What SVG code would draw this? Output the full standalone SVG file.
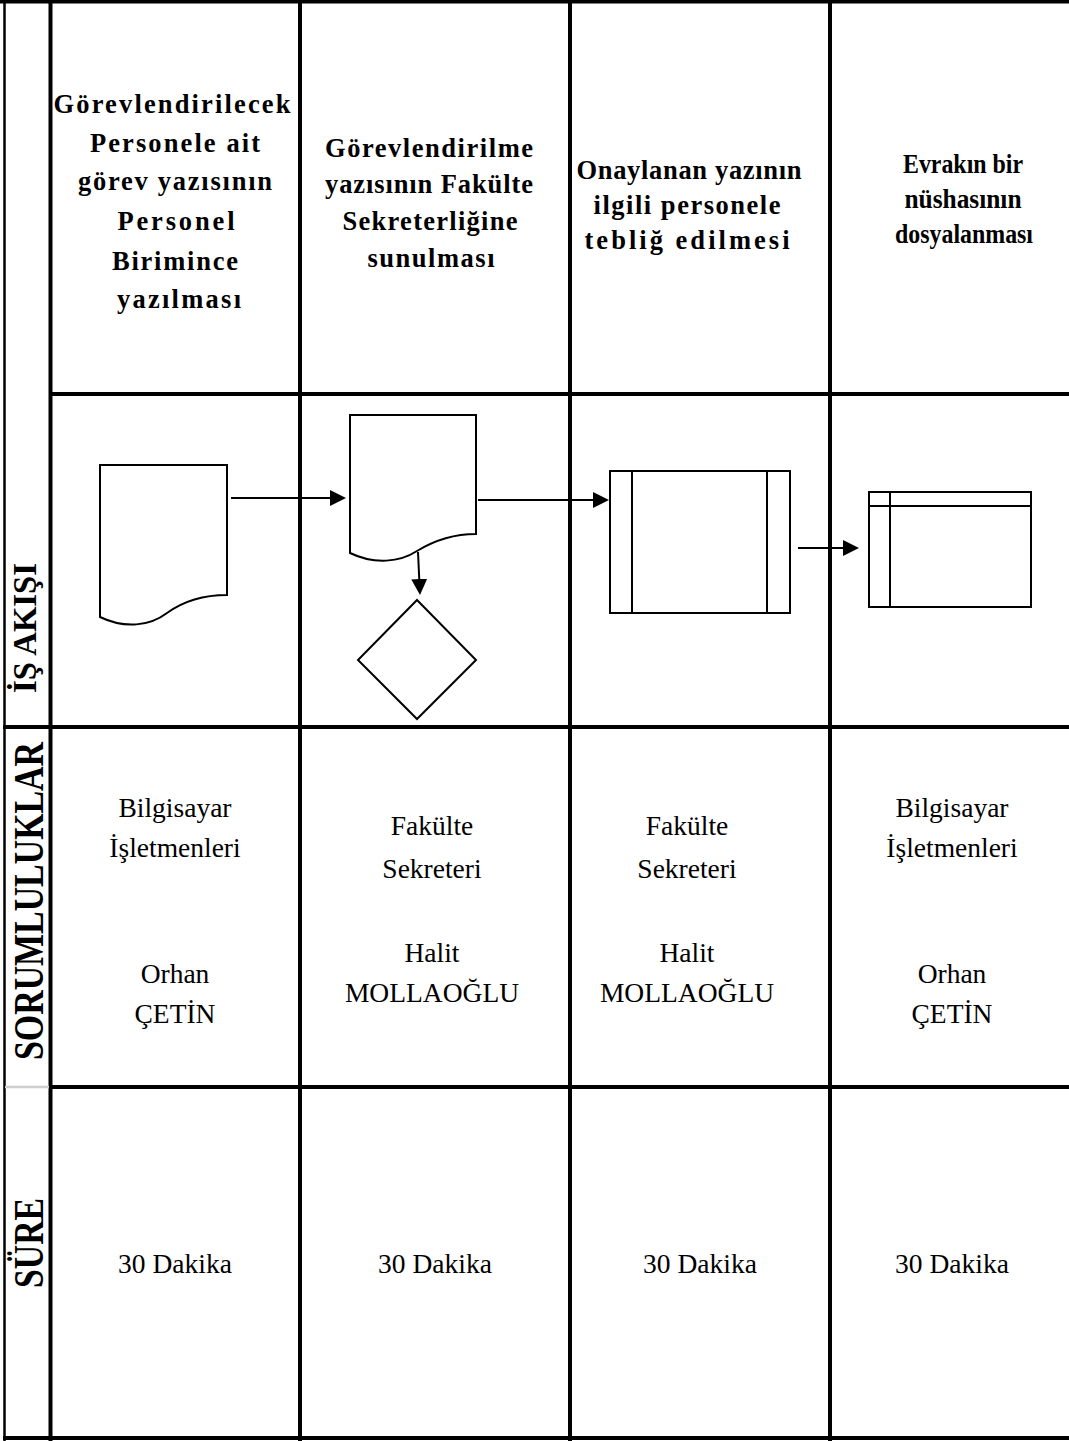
<svg xmlns="http://www.w3.org/2000/svg" width="1069" height="1441" viewBox="0 0 1069 1441">
<style>
.grid{stroke:#000;stroke-width:4;fill:none}
.thin{stroke:#000;stroke-width:2.5;fill:none}
.gray{stroke:#cfcfcf;stroke-width:2.5;fill:none}
.shape{stroke:#000;stroke-width:2;fill:#fff}
.conn{stroke:#000;stroke-width:2;fill:none}
.hd{font-family:"Liberation Serif","Times New Roman",serif;font-weight:bold;font-size:26.5px;text-anchor:middle;fill:#000}
.bd{font-family:"Liberation Serif","Times New Roman",serif;font-size:27.5px;text-anchor:middle;fill:#000}
.side{font-family:"Liberation Serif","Times New Roman",serif;font-weight:bold;text-anchor:middle;fill:#000}
</style>
<defs>
<marker id="ah" viewBox="0 0 16 16" refX="12" refY="8" markerWidth="16" markerHeight="16" markerUnits="userSpaceOnUse" orient="auto">
<path d="M0,0 L16,8 L0,16 Z" fill="#000"/>
</marker>
</defs>
<rect x="0" y="0" width="1069" height="1441" fill="#fff"/>

<g id="table">
<line class="grid" x1="0" y1="1.5" x2="1069" y2="1.5"/>
<line class="thin" x1="4.5" y1="0" x2="4.5" y2="1441"/>
<line class="grid" x1="50.5" y1="0" x2="50.5" y2="1441"/>
<line class="grid" x1="300" y1="0" x2="300" y2="1441"/>
<line class="grid" x1="570" y1="0" x2="570" y2="1441"/>
<line class="grid" x1="830" y1="0" x2="830" y2="1441"/>
<line class="grid" x1="50.5" y1="394" x2="1069" y2="394"/>
<line class="grid" x1="3" y1="727" x2="1069" y2="727"/>
<line class="gray" x1="5" y1="1087" x2="49" y2="1087"/>
<line class="grid" x1="50.5" y1="1087" x2="1069" y2="1087"/>
<line class="grid" x1="3" y1="1438" x2="1069" y2="1438"/>
</g>

<g id="row-labels">
<text class="side" font-size="34" transform="translate(36,628) rotate(-90)" textLength="130" lengthAdjust="spacingAndGlyphs">İŞ AKIŞI</text>
<text class="side" font-size="42" transform="translate(43,901) rotate(-90)" textLength="318" lengthAdjust="spacingAndGlyphs">SORUMLULUKLAR</text>
<text class="side" font-size="42" transform="translate(43,1243) rotate(-90)" textLength="90" lengthAdjust="spacingAndGlyphs">SÜRE</text>
</g>

<g id="header-1">
<text class="hd" x="172" y="113" textLength="237" lengthAdjust="spacing">Görevlendirilecek</text>
<text class="hd" x="175" y="152" textLength="170" lengthAdjust="spacing">Personele ait</text>
<text class="hd" x="175" y="190" textLength="194" lengthAdjust="spacing">görev yazısının</text>
<text class="hd" x="176" y="230" textLength="117" lengthAdjust="spacing">Personel</text>
<text class="hd" x="175" y="270" textLength="126" lengthAdjust="spacing">Birimince</text>
<text class="hd" x="179" y="308" textLength="124" lengthAdjust="spacing">yazılması</text>
</g>
<g id="header-2">
<text class="hd" x="429" y="157" textLength="208" lengthAdjust="spacing">Görevlendirilme</text>
<text class="hd" x="429" y="193" textLength="208" lengthAdjust="spacing">yazısının Fakülte</text>
<text class="hd" x="430" y="230" textLength="175" lengthAdjust="spacing">Sekreterliğine</text>
<text class="hd" x="431" y="267" textLength="127" lengthAdjust="spacing">sunulması</text>
</g>
<g id="header-3">
<text class="hd" x="689" y="179" textLength="225" lengthAdjust="spacing">Onaylanan yazının</text>
<text class="hd" x="687" y="214" textLength="187" lengthAdjust="spacing">ilgili personele</text>
<text class="hd" x="687" y="249" textLength="205" lengthAdjust="spacing">tebliğ edilmesi</text>
</g>
<g id="header-4">
<text class="hd" x="963" y="173" textLength="120" lengthAdjust="spacingAndGlyphs">Evrakın bir</text>
<text class="hd" x="963" y="208" textLength="117" lengthAdjust="spacingAndGlyphs">nüshasının</text>
<text class="hd" x="964" y="243" textLength="138" lengthAdjust="spacingAndGlyphs">dosyalanması</text>
</g>

<g id="node-document-1">
<path class="shape" d="M100,465 H227 V595 C205,595 185,600 167,613 C150,626 125,629 100,617 Z"/>
</g>
<g id="node-document-2">
<path class="shape" d="M350,415 H476 V534 C455,534 435,540 417,551 C400,562 375,565 350,553 Z"/>
</g>
<g id="node-decision">
<polygon class="shape" points="417,600 476,660 417,719 358,660"/>
</g>
<g id="node-predefined-process">
<rect class="shape" x="610" y="471" width="180" height="142"/>
<line class="conn" x1="632" y1="471" x2="632" y2="613"/>
<line class="conn" x1="767" y1="471" x2="767" y2="613"/>
</g>
<g id="node-internal-storage">
<rect class="shape" x="869" y="492" width="162" height="115"/>
<line class="conn" x1="869" y1="506" x2="1031" y2="506"/>
<line class="conn" x1="890" y1="492" x2="890" y2="607"/>
</g>

<g id="connectors">
<line class="conn" x1="231" y1="498" x2="342" y2="498" marker-end="url(#ah)"/>
<line class="conn" x1="418" y1="552" x2="419.8" y2="591" marker-end="url(#ah)"/>
<line class="conn" x1="478" y1="500" x2="605" y2="500" marker-end="url(#ah)"/>
<line class="conn" x1="798" y1="548" x2="855" y2="548" marker-end="url(#ah)"/>
</g>

<g id="resp-1">
<text class="bd" x="175" y="817">Bilgisayar</text>
<text class="bd" x="175" y="857">İşletmenleri</text>
<text class="bd" x="175" y="983">Orhan</text>
<text class="bd" x="175" y="1023">ÇETİN</text>
</g>
<g id="resp-2">
<text class="bd" x="432" y="835">Fakülte</text>
<text class="bd" x="432" y="878">Sekreteri</text>
<text class="bd" x="432" y="962">Halit</text>
<text class="bd" x="432" y="1002">MOLLAOĞLU</text>
</g>
<g id="resp-3">
<text class="bd" x="687" y="835">Fakülte</text>
<text class="bd" x="687" y="878">Sekreteri</text>
<text class="bd" x="687" y="962">Halit</text>
<text class="bd" x="687" y="1002">MOLLAOĞLU</text>
</g>
<g id="resp-4">
<text class="bd" x="952" y="817">Bilgisayar</text>
<text class="bd" x="952" y="857">İşletmenleri</text>
<text class="bd" x="952" y="983">Orhan</text>
<text class="bd" x="952" y="1023">ÇETİN</text>
</g>

<g id="time">
<text class="bd" x="175" y="1273">30 Dakika</text>
<text class="bd" x="435" y="1273">30 Dakika</text>
<text class="bd" x="700" y="1273">30 Dakika</text>
<text class="bd" x="952" y="1273">30 Dakika</text>
</g>
</svg>
